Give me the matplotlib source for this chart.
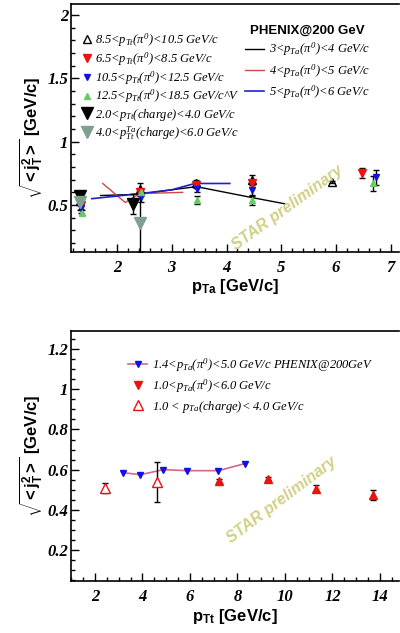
import numpy as np
import matplotlib
matplotlib.use('Agg')
import matplotlib.pyplot as plt
from matplotlib.ticker import MultipleLocator, FormatStrFormatter
from matplotlib.lines import Line2D

# ------------------------------ data: top panel (vs p_Ta) ------------------------------
pta_open = [1.32, 2.42, 3.45, 4.46, 5.92]
jt_open = [0.53, 0.63, 0.67, 0.70, 0.68]
err_open = [0.03, 0.04, 0.03, 0.04, 0.01]

pta_red = [1.34, 2.42, 3.45, 4.46, 6.47]
jt_red = [0.50, 0.60, 0.655, 0.67, 0.75]
err_red = [0.03, 0.03, 0.02, 0.03, 0.04]

pta_blue = [1.35, 2.44, 3.47, 4.47, 6.73]
jt_blue = [0.48, 0.565, 0.63, 0.62, 0.72]
err_blue = [0.04, 0.04, 0.03, 0.05, 0.06]

pta_green = [1.36, 2.43, 3.46, 4.47, 6.68]
jt_green = [0.44, 0.60, 0.54, 0.54, 0.67]
err_green = [0.02, 0.03, 0.03, 0.04, 0.06]

pta_ch24 = [1.32, 2.29]
jt_ch24 = [0.57, 0.51]
err_ch24 = [0.04, 0.08]

pta_ch46 = [1.32, 2.42]
jt_ch46 = [0.52, 0.36]
err_ch46_lo = [0.06, 0.23]
err_ch46_hi = [0.06, 0.27]

# PHENIX curves
phx_black_x = [1.70, 2.42, 3.00, 3.45, 4.45, 5.06]
phx_black_y = [0.575, 0.585, 0.62, 0.645, 0.56, 0.51]
phx_red_x = [1.74, 2.15, 2.42, 3.20]
phx_red_y = [0.67, 0.52, 0.59, 0.60]
phx_blue_x = [1.54, 2.42, 3.00, 3.42, 4.06]
phx_blue_y = [0.55, 0.59, 0.62, 0.67, 0.67]

# ------------------------------ data: bottom panel (vs p_Tt) ------------------------------
ptt_phx = [3.19, 3.91, 4.88, 5.89, 7.20, 8.30]
jt_phx = [0.585, 0.575, 0.60, 0.595, 0.595, 0.63]

ptt_pi0 = [7.24, 9.30, 11.30, 13.70]
jt_pi0 = [0.545, 0.555, 0.505, 0.475]
err_pi0 = [0.008, 0.008, 0.018, 0.025]

ptt_ch = [2.43, 4.59]
jt_ch = [0.51, 0.54]
err_ch = [0.025, 0.10]

# ------------------------------ style ------------------------------
plt.rcParams['mathtext.fontset'] = 'custom'
plt.rcParams['mathtext.rm'] = 'Liberation Serif:italic'
plt.rcParams['mathtext.it'] = 'Liberation Serif:italic'
plt.rcParams['mathtext.bf'] = 'Liberation Sans:bold'
plt.rcParams['mathtext.sf'] = 'Liberation Sans'

c_red = '#ee1111'
c_blue = '#1010e0'
c_green = '#66cc66'
c_gray = '#7fa090'
c_pink = '#d06a88'
c_star = '#d2cf86'

leg_font = {'family': 'Liberation Serif', 'style': 'italic', 'size': 9}
tick_font = {'family': 'Liberation Serif', 'style': 'italic', 'weight': 'bold', 'size': 12}
lab_font = {'family': 'Liberation Sans', 'weight': 'bold', 'size': 12}
eb = dict(ecolor='black', elinewidth=1, capsize=2, capthick=1, linestyle='none')


def style_axes(ax, xmaj, xmin, ymaj, ymin):
    ax.spines['right'].set_visible(False)
    for s in ['left', 'bottom', 'top']:
        ax.spines[s].set_linewidth(1.2)
    ax.xaxis.set_major_locator(MultipleLocator(xmaj))
    ax.xaxis.set_minor_locator(MultipleLocator(xmin))
    ax.yaxis.set_major_locator(MultipleLocator(ymaj))
    ax.yaxis.set_minor_locator(MultipleLocator(ymin))
    ax.xaxis.set_major_formatter(FormatStrFormatter('%g'))
    ax.yaxis.set_major_formatter(FormatStrFormatter('%g'))
    ax.tick_params(which='both', direction='in', top=False, right=False, width=1)
    ax.tick_params(which='major', length=6)
    ax.tick_params(which='minor', length=3)
    ax.tick_params(axis='x', pad=6)
    ax.tick_params(axis='y', pad=2)
    for t in ax.get_xticklabels() + ax.get_yticklabels():
        t.set_fontproperties(tick_font)


fig = plt.figure(figsize=(4, 6.33), dpi=100)
ax1 = fig.add_axes([71 / 400, (633 - 252) / 633, 328 / 400, 248 / 633])
ax2 = fig.add_axes([71 / 400, (633 - 581) / 633, 328 / 400, 250 / 633])

# ------------------------------ top panel ------------------------------
l_bk, = ax1.plot(phx_black_x, phx_black_y, color='black', lw=1)
l_rd, = ax1.plot(phx_red_x, phx_red_y, color='#d04848', lw=1)
l_bl, = ax1.plot(phx_blue_x, phx_blue_y, color='#2020c8', lw=1.2)

h_open = ax1.errorbar(pta_open, jt_open, yerr=err_open, marker='^', ms=6, mfc='none',
                      mec='black', mew=1, **eb)
h_red = ax1.errorbar(pta_red, jt_red, yerr=err_red, marker='v', ms=6, mfc=c_red, mec=c_red, **eb)
h_blue = ax1.errorbar(pta_blue, jt_blue, yerr=err_blue, marker='v', ms=4.5, mfc=c_blue, mec=c_blue, **eb)
h_green = ax1.errorbar(pta_green, jt_green, yerr=err_green, marker='^', ms=5, mfc=c_green, mec=c_green, **eb)
h_ch24 = ax1.errorbar(pta_ch24, jt_ch24, yerr=err_ch24, marker='v', ms=9, mfc='black', mec='black', **eb)
h_ch46 = ax1.errorbar(pta_ch46, jt_ch46, yerr=[err_ch46_lo, err_ch46_hi], marker='v', ms=9,
                      mfc=c_gray, mec=c_gray, **eb)

ax1.set_xlim(1.16, 7.15)
ax1.set_ylim(0.129, 2.087)
style_axes(ax1, 1, 0.2, 0.5, 0.1)

ax1.set_xlabel(r'$\mathbf{p_{Ta}}$ [GeV/c]', fontdict=lab_font)
ax1.xaxis.set_label_coords(0.5, -0.10)
ax1.set_ylabel(r'$\sqrt{\mathbf{<j^{2}_{T}>}}$ [GeV/c]', fontdict=lab_font)
ax1.yaxis.set_label_coords(-0.08, 0.46)

labels_left = ['8.5<$p_{Tt}$($\\pi^{0}$)<10.5 GeV/c',
               '6.5<$p_{Tt}$($\\pi^{0}$)<8.5 GeV/c',
               '10.5<$p_{Tt}$($\\pi^{0}$)<12.5 GeV/c',
               '12.5<$p_{Tt}$($\\pi^{0}$)<18.5 GeV/c^V',
               '2.0<$p_{Tt}$(charge)<4.0 GeV/c',
               '4.0<$p_{Tt}^{Ta}$(charge)<6.0 GeV/c']
hl = [Line2D([], [], ls='none', marker='^', ms=6, mfc='none', mec='black'),
      Line2D([], [], ls='none', marker='v', ms=6, color=c_red),
      Line2D([], [], ls='none', marker='v', ms=4.5, color=c_blue),
      Line2D([], [], ls='none', marker='^', ms=5, color=c_green),
      Line2D([], [], ls='none', marker='v', ms=8, color='black'),
      Line2D([], [], ls='none', marker='v', ms=8, color=c_gray)]
leg1 = ax1.legend(hl, labels_left, loc='upper left', bbox_to_anchor=(0.035, 0.89),
                  frameon=False, prop=leg_font, handlelength=0.8, handletextpad=0.2,
                  labelspacing=0.1, borderpad=0, borderaxespad=0)
ax1.add_artist(leg1)

labels_right = ['3<$p_{Ta}$($\\pi^{0}$)<4 GeV/c',
                '4<$p_{Ta}$($\\pi^{0}$)<5 GeV/c',
                '5<$p_{Ta}$($\\pi^{0}$)<6 GeV/c']
ax1.legend([l_bk, l_rd, l_bl], labels_right, loc='upper left', bbox_to_anchor=(0.53, 0.915),
           frameon=False, prop=leg_font, handlelength=1.5, handletextpad=0.4,
           labelspacing=0.3, borderpad=0, borderaxespad=0,
           title='PHENIX@200 GeV',
           title_fontproperties={'family': 'Liberation Sans', 'weight': 'bold', 'size': 9.5})

ax1.text(0.66, 0.18, 'STAR preliminary', transform=ax1.transAxes, rotation=36,
         ha='center', va='center', color=c_star, fontsize=11.5,
         family='Liberation Sans', weight='bold', style='italic')

# ------------------------------ bottom panel ------------------------------
h_phx, = ax2.plot(ptt_phx, jt_phx, color=c_pink, lw=1.2, marker='v', ms=5,
                  mfc=c_blue, mec=c_blue)
ax2.errorbar(ptt_pi0, jt_pi0, yerr=err_pi0, marker='^', ms=6, mfc=c_red, mec=c_red, **eb)
ax2.errorbar(ptt_ch, jt_ch, yerr=err_ch, marker='^', ms=7, mfc='white', mec=c_red, mew=1, **eb)

ax2.set_xlim(0.99, 14.8)
ax2.set_ylim(0.046, 1.29)
style_axes(ax2, 2, 0.5, 0.2, 0.05)

ax2.set_xlabel(r'$\mathbf{p_{Tt}}$ [GeV/c]', fontdict=lab_font)
ax2.xaxis.set_label_coords(0.5, -0.102)
ax2.set_ylabel(r'$\sqrt{\mathbf{<j^{2}_{T}>}}$ [GeV/c]', fontdict=lab_font)
ax2.yaxis.set_label_coords(-0.08, 0.5)

labels_bot = ['1.4<$p_{Ta}$($\\pi^{0}$)<5.0 GeV/c PHENIX@200GeV',
              '1.0<$p_{Ta}$($\\pi^{0}$)<6.0 GeV/c',
              '1.0 < $p_{Ta}$(charge)< 4.0 GeV/c']
hb = [Line2D([], [], color=c_pink, lw=1.2, marker='v', ms=5, mfc=c_blue, mec=c_blue),
      Line2D([], [], ls='none', marker='v', ms=6, color=c_red),
      Line2D([], [], ls='none', marker='^', ms=7, mfc='white', mec=c_red)]
ax2.legend(hb, labels_bot, loc='upper left', bbox_to_anchor=(0.175, 0.9),
           frameon=False, prop=leg_font, handlelength=1.5, handletextpad=0.4,
           labelspacing=0.3, borderpad=0, borderaxespad=0)

ax2.text(0.643, 0.324, 'STAR preliminary', transform=ax2.transAxes, rotation=37,
         ha='center', va='center', color=c_star, fontsize=11.5,
         family='Liberation Sans', weight='bold', style='italic')

fig.savefig('out.png', dpi=100)
